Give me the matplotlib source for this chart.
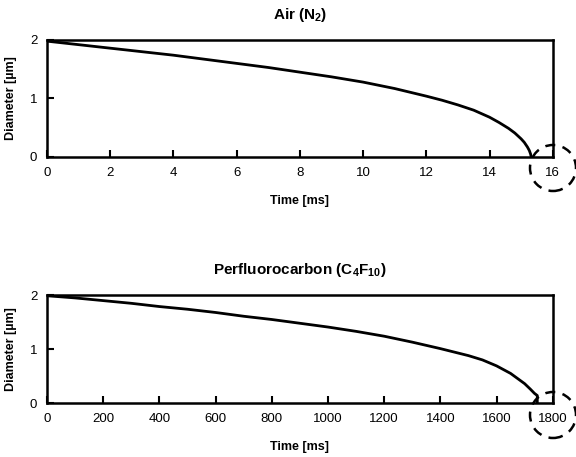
import matplotlib
matplotlib.use("Agg")
import matplotlib.pyplot as plt
from matplotlib.patches import Ellipse
import numpy as np

plt.rcParams['font.family'] = ['Liberation Sans', 'DejaVu Sans']
plt.rcParams['mathtext.fontset'] = 'custom'
plt.rcParams['mathtext.rm'] = 'Liberation Sans:bold'
plt.rcParams['mathtext.default'] = 'rm'

# air (N2) bubble, time in ms
air_t = [0, 1, 2, 3, 4, 5, 6, 7, 8, 9, 10, 11, 12, 12.5, 13, 13.5, 14, 14.3, 14.6, 14.8, 15.0, 15.1, 15.2, 15.26, 15.3, 15.32]
air_d = [1.98, 1.92, 1.86, 1.80, 1.74, 1.67, 1.60, 1.53, 1.45, 1.37, 1.28, 1.17, 1.04, 0.97, 0.89, 0.80, 0.68, 0.59, 0.49, 0.41, 0.31, 0.25, 0.17, 0.11, 0.05, 0.0]

# perfluorocarbon (C4F10) bubble, time in ms
pfc_t = [0, 100, 200, 300, 400, 500, 600, 700, 800, 900, 1000, 1100, 1200, 1300, 1400, 1500, 1550, 1600, 1650, 1700, 1720, 1735, 1745, 1745]
pfc_d = [1.99, 1.95, 1.90, 1.85, 1.79, 1.74, 1.68, 1.61, 1.55, 1.48, 1.41, 1.33, 1.24, 1.13, 1.01, 0.88, 0.80, 0.69, 0.55, 0.36, 0.26, 0.18, 0.14, 0.0]

fig = plt.figure(figsize=(5.76, 4.57), dpi=100)

ax1 = fig.add_axes([0.0816, 0.6565, 0.878, 0.256])
ax2 = fig.add_axes([0.0816, 0.118, 0.878, 0.236])


def style(ax, xmax, xticks, title, xlabel):
    ax.set_xlim(0, xmax)
    ax.set_ylim(0, 2)
    ax.set_xticks(xticks)
    ax.set_yticks([0, 1, 2])
    ax.set_xticklabels([str(v) for v in xticks], fontsize=9.5)
    ax.set_yticklabels(['0', '1', '2'], fontsize=9.5)
    ax.tick_params(direction='in', length=5, width=1.5, top=False, right=False, pad=7)
    for s in ax.spines.values():
        s.set_linewidth(1.8)
    ax.set_title(title, fontsize=11, fontweight='bold', pad=15)
    ax.set_xlabel(xlabel, fontsize=9, fontweight='bold', labelpad=12)
    ax.set_ylabel('Diameter [\u00b5m]', fontsize=9, fontweight='bold', labelpad=9)


ax1.plot(air_t, air_d, color='black', lw=2)
style(ax1, 16, [0, 2, 4, 6, 8, 10, 12, 14, 16], 'Air (N$_2$)', 'Time [ms]')

ax2.plot(pfc_t, pfc_d, color='black', lw=2)
style(ax2, 1800, [0, 200, 400, 600, 800, 1000, 1200, 1400, 1600, 1800],
      'Perfluorocarbon (C$_4$F$_{10}$)', 'Time [ms]')

# dashed circles marking the end of dissolution
for cy in [1 - 168 / 457, 1 - 415 / 457]:
    fig.patches.append(Ellipse((553 / 576, cy), 46 / 576, 46 / 457,
                               transform=fig.transFigure, fill=False,
                               ls=(0, (4, 3)), lw=1.8, color='black'))

fig.savefig('out.png', dpi=100)
